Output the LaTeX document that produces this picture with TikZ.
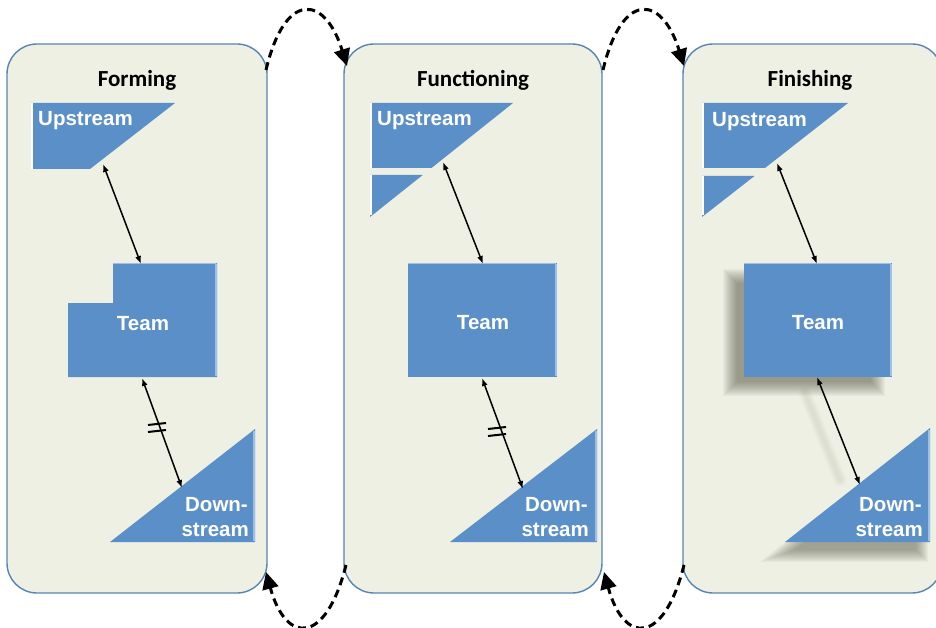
\documentclass[tikz,border=0pt]{standalone}
\usepackage{fontspec}
\setmainfont{Liberation Sans}
\newfontfamily\titlefont{Carlito}
\usetikzlibrary{arrows.meta}

\definecolor{panelfill}{HTML}{EEF0E4}
\definecolor{panelline}{HTML}{5884B4}
\definecolor{shapefill}{HTML}{5B8FC8}
\definecolor{shapeedge}{HTML}{9CC0E8}
\definecolor{shadowcol}{HTML}{4A4A36}

\tikzset{
  panel/.style={fill=panelfill, draw=panelline, line width=1.4pt, rounded corners=30pt},
  blockshape/.style={fill=shapefill},
  bevel/.style={draw=shapeedge, line width=2pt},
  whiteedge/.style={draw=white, line width=1.4pt},
  phasetitle/.style={font=\titlefont\bfseries\fontsize{23}{25}\selectfont, text=black, inner sep=0pt},
  blocklabel/.style={font=\bfseries\fontsize{20.5}{24}\selectfont, text=white, inner sep=0pt},
  link/.style={line width=1.5pt, {Latex[length=8pt,width=6pt]}-{Latex[length=8pt,width=6pt]}},
  cyclearrow/.style={line width=3pt, dash pattern=on 8pt off 5pt, -{Triangle[length=17pt,width=16pt]}},
  breakmark/.style={line width=2pt},
  shadowlayer/.style={fill=shadowcol, fill opacity=0.045},
}

\begin{document}
\begin{tikzpicture}[x=1pt, y=-1pt]
\useasboundingbox (0,0) rectangle (936,628);
\fill[white] (0,0) rectangle (936,628);

% ---------- the three phase panels ----------
\draw[panel] (7,44) rectangle (267,593);
\draw[panel] (344,44) rectangle (602,593);
\draw[panel] (683,44) rectangle (942,593);

\node[phasetitle] (t1) at (137,80) {Forming};
\node[phasetitle] (t2) at (473,80) {Functioning};
\node[phasetitle] (t3) at (810,80) {Finishing};

% ---------- panel 1: Forming ----------
\fill[blockshape] (31,103) -- (175,103) -- (90,169) -- (31,169) -- cycle;
\draw[whiteedge] (32,103) -- (32,169);
\node[blocklabel, anchor=west] (up1) at (38,121) {Upstream};
\coordinate (up1a) at (103,164);

\fill[blockshape] (113,263) -- (217,263) -- (217,377) -- (68,377) -- (68,303) -- (113,303) -- cycle;
\draw[bevel] (216,264) -- (216,376);
\draw[bevel, line width=1pt] (113,263.5) -- (216,263.5);
\node[blocklabel] (team1) at (143,324) {Team};
\coordinate (team1t) at (141,264);
\coordinate (team1b) at (142,378);

\fill[blockshape] (110,542) -- (255,542) -- (255,429) -- cycle;
\draw[bevel] (254,431) -- (254,541);
\node[blocklabel, anchor=east] (dn1a) at (248,505) {Down-};
\node[blocklabel, anchor=east] (dn1b) at (249,530) {stream};
\coordinate (dn1t) at (182,488);

\draw[link] (up1a) -- (team1t);
\draw[link] (team1b) -- (dn1t);
\draw[breakmark] (148,425) -- (166,423);
\draw[breakmark] (148,432) -- (166,430);

% ---------- panel 2: Functioning ----------
\fill[blockshape] (370,103) -- (513,103) -- (431.5,168) -- (370,168) -- cycle;
\fill[blockshape] (370,175) -- (422.7,175) -- (370,217) -- cycle;
\draw[whiteedge] (371,103) -- (371,168);
\draw[whiteedge] (371,175) -- (371,215);
\node[blocklabel, anchor=west] (up2) at (377,121) {Upstream};
\coordinate (up2a) at (443,162);

\fill[blockshape] (408,263) rectangle (557,377);
\draw[bevel] (556,264) -- (556,376);
\draw[bevel, line width=1pt] (408,263.5) -- (556,263.5);
\node[blocklabel] (team2) at (483,323) {Team};
\coordinate (team2t) at (483,264);
\coordinate (team2b) at (482,378);

\fill[blockshape] (450,542) -- (597,542) -- (597,429) -- cycle;
\draw[bevel] (596,431) -- (596,541);
\node[blocklabel, anchor=east] (dn2a) at (588,505) {Down-};
\node[blocklabel, anchor=east] (dn2b) at (589,530) {stream};
\coordinate (dn2t) at (523,489);

\draw[link] (up2a) -- (team2t);
\draw[link] (team2b) -- (dn2t);
\draw[breakmark] (488,429) -- (506,427);
\draw[breakmark] (488,436) -- (506,434);

% ---------- panel 3: Finishing ----------
\fill[blockshape] (702,103) -- (848,103) -- (765,168) -- (702,168) -- cycle;
\fill[blockshape] (702,176) -- (754.5,176) -- (702,217) -- cycle;
\draw[whiteedge] (703,103) -- (703,168);
\draw[whiteedge] (703,176) -- (703,215);
\node[blocklabel, anchor=west] (up3) at (712,122) {Upstream};
\coordinate (up3a) at (777,163);

% soft drop shadows, built from nested translucent layers
\foreach \d in {-7,...,7} {
  \fill[shadowlayer] (730+\d,276+\d) rectangle (878-\d,389-\d);
}
\foreach \d in {-6,...,6} {
  \pgfmathsetmacro{\s}{(37.3-\d)/37.3}
  \fill[shadowlayer, scale around={\s:(884.7,518.7)}] (777,556) -- (922,556) -- (922,442) -- cycle;
}
\foreach \w in {12,8,4} {
  \draw[shadowcol, opacity=0.03, line width=\w pt, line cap=round] (805,393) -- (840,480);
}

\fill[blockshape] (744,263) rectangle (892,377);
\draw[bevel] (891,264) -- (891,376);
\draw[bevel, line width=1pt] (744,263.5) -- (891,263.5);
\node[blocklabel] (team3) at (818,323) {Team};
\coordinate (team3t) at (817,264);
\coordinate (team3b) at (817,377);

\fill[blockshape] (785,542) -- (930,542) -- (930,428) -- cycle;
\draw[bevel] (929,430) -- (929,541);
\node[blocklabel, anchor=east] (dn3a) at (922,505) {Down-};
\node[blocklabel, anchor=east] (dn3b) at (923,530) {stream};
\coordinate (dn3t) at (860,485);

\draw[link] (up3a) -- (team3t);
\draw[link] (team3b) -- (dn3t);

% ---------- cycle arrows between the phases ----------
\coordinate (f1) at (266,70);
\coordinate (f2) at (347,66);
\coordinate (f3) at (603,70);
\coordinate (f4) at (684,66);
\coordinate (b1) at (346,565);
\coordinate (b2) at (266,572);
\coordinate (b3) at (684,565);
\coordinate (b4) at (604,572);

\draw[cyclearrow] (f1) .. controls (285,-10) and (325,-5) .. (f2);
\draw[cyclearrow] (f3) .. controls (622,-10) and (662,-5) .. (f4);
\draw[cyclearrow] (b1) .. controls (326,645) and (286,645) .. (b2);
\draw[cyclearrow] (b3) .. controls (664,645) and (624,645) .. (b4);
\end{tikzpicture}
\end{document}
